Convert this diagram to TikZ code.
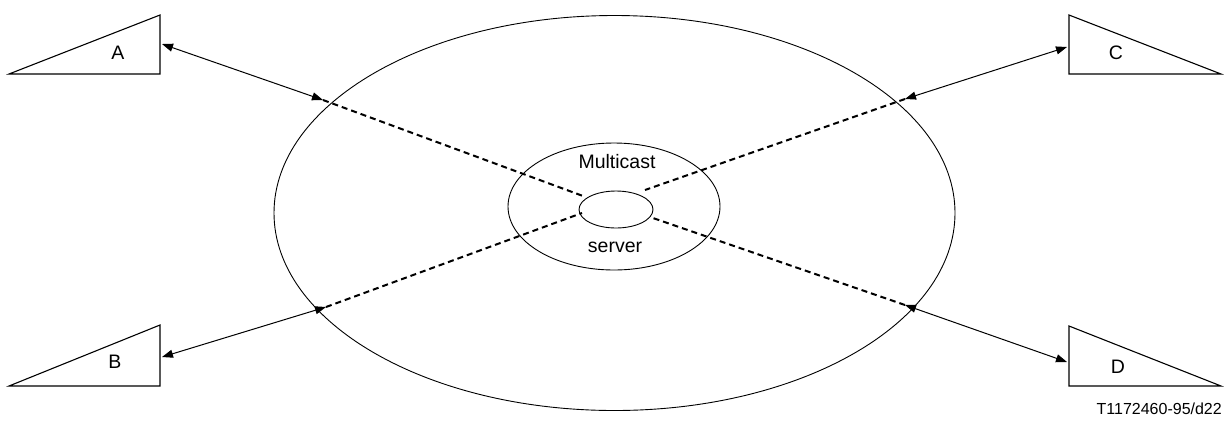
\documentclass[tikz,border=0pt]{standalone}
\usepackage{fontspec}
\setmainfont{Liberation Sans}
\usetikzlibrary{arrows.meta,shapes.geometric}
\tikzset{
  term/.style={draw,line width=1.1pt,line join=miter},
  link/.style={line width=1pt,{Triangle[length=11pt,width=8pt]}-{Triangle[length=11pt,width=8pt]}},
  path/.style={line width=2pt,dash pattern=on 6pt off 4pt},
  ring/.style={draw,ellipse,line width=0.9pt,inner sep=0pt},
  lbl/.style={font=\fontsize{19.5}{22}\selectfont,inner sep=0pt}
}
\begin{document}
\begin{tikzpicture}[x=1pt,y=-1pt]
\useasboundingbox (0,0) rectangle (1229,424);
% network and multicast server
\node[ring,minimum width=681pt,minimum height=395pt] (net) at (614.5,213) {};
\node[ring,minimum width=212pt,minimum height=127pt] (srv) at (614,206.5) {};
\node[ring,minimum width=74pt,minimum height=37pt] (core) at (616,209.5) {};
\node[lbl] (mc) at (617,162) {Multicast};
\node[lbl] (sv) at (615,247) {server};
% terminals
\draw[term] (9,74) -- (160,15) -- (160,74) -- cycle;
\draw[term] (9,386) -- (160,325) -- (160,386) -- cycle;
\draw[term] (1221,74) -- (1069,15) -- (1069,74) -- cycle;
\draw[term] (1221,386) -- (1069,326) -- (1069,386) -- cycle;
\node[lbl] (a) at (118,53) {A};
\node[lbl] (b) at (115,362) {B};
\node[lbl] (c) at (1116,53) {C};
\node[lbl] (d) at (1118,367) {D};
% attachment points
\coordinate (ta) at (162,44);
\coordinate (tb) at (162,357);
\coordinate (tc) at (1067,47);
\coordinate (td) at (1067,362);
\coordinate (ea) at (323,100);
\coordinate (eb) at (326,307);
\coordinate (ec) at (905,99);
\coordinate (ed) at (905,305);
\coordinate (ia) at (583,196);
\coordinate (ib) at (582,213);
\coordinate (ic) at (645,190);
\coordinate (id) at (650,217);
% access links
\draw[link] (ta) -- (ea);
\draw[link] (tb) -- (eb);
\draw[link] (tc) -- (ec);
\draw[link] (td) -- (ed);
% paths through the network
\draw[path] (ea) -- (ia);
\draw[path] (eb) -- (ib);
\draw[path] (ec) -- (ic);
\draw[path] (ed) -- (id);
\node[font=\fontsize{16}{19}\selectfont,anchor=east,inner sep=0pt] (ref) at (1222,409) {T1172460-95/d22};
\end{tikzpicture}
\end{document}
